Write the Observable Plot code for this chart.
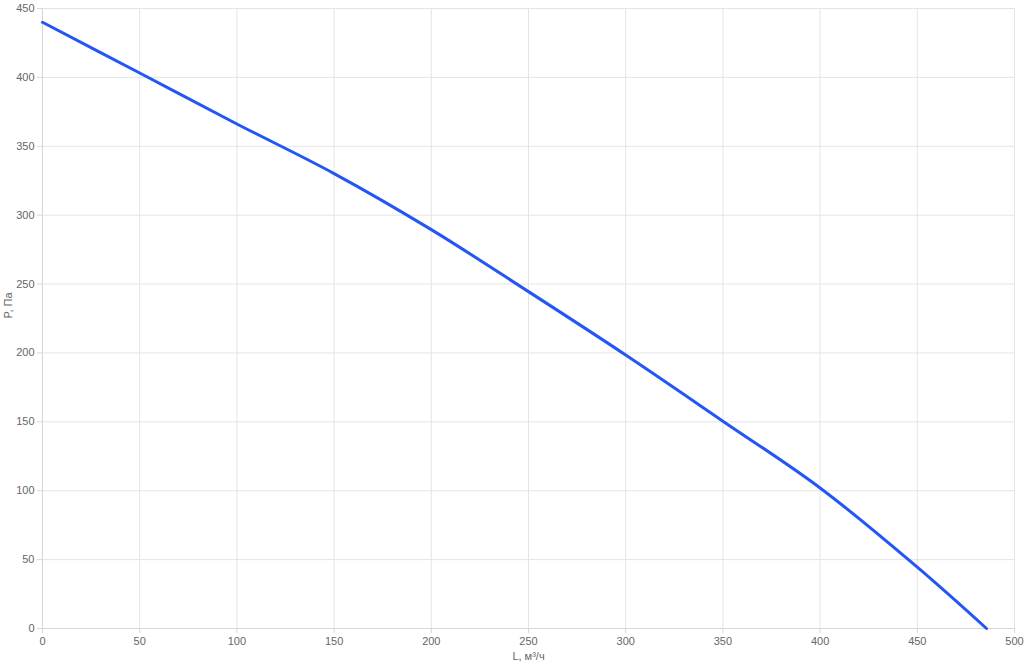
<!DOCTYPE html>
<html><head><meta charset="utf-8">
<script src="https://cdn.jsdelivr.net/npm/d3@7"></script>
<script src="https://cdn.jsdelivr.net/npm/@observablehq/plot@0.6"></script>
<style>
html,body{margin:0;padding:0;background:#fff;}
svg{display:block;}
</style>
</head><body><div id="chart"></div>
<script>
const flowL = [0, 50, 100, 150, 200, 250, 300, 350, 400, 450, 485.6];
const pressureP = [440, 403.2, 366.2, 330.2, 289.5, 244.5, 198.5, 150.5, 102, 44.5, 0];
const xTicks = [0, 50, 100, 150, 200, 250, 300, 350, 400, 450, 500];
const yTicks = [0, 50, 100, 150, 200, 250, 300, 350, 400, 450];

const data = flowL.map((L, i) => ({L, P: pressureP[i]}));

const chart = Plot.plot({
  width: 1024,
  height: 666,
  marginLeft: 42,
  marginRight: 10,
  marginTop: 8,
  marginBottom: 38,
  style: {fontFamily: "Liberation Sans, Arial, sans-serif", fontSize: "11px", color: "#666", background: "#fff"},
  x: {domain: [0, 500], ticks: xTicks, label: null},
  y: {domain: [0, 450], ticks: yTicks, label: null},
  marks: [
    Plot.gridX(xTicks, {stroke: "#e4e4e4", strokeOpacity: 1, strokeWidth: 1}),
    Plot.gridY(yTicks, {stroke: "#e4e4e4", strokeOpacity: 1, strokeWidth: 1}),
    Plot.ruleY([0], {stroke: "#d6d6d6"}),
    Plot.ruleX([0], {stroke: "#d6d6d6"}),
    Plot.axisX(xTicks, {tickSize: 5, tickPadding: 4, stroke: "#d6d6d6", fill: "#666", fontSize: 11}),
    Plot.axisY(yTicks, {tickSize: 5, tickPadding: 3, stroke: "#d6d6d6", fill: "#666", fontSize: 11}),
    Plot.line(data, {x: "L", y: "P", stroke: "#2356f5", strokeWidth: 3, curve: "catmull-rom"}),
    Plot.text(["L, м³/ч"], {frameAnchor: "bottom", dy: 31, fill: "#666", fontSize: 11}),
    Plot.text(["P, Па"], {frameAnchor: "left", dx: -34, rotate: -90, fill: "#666", fontSize: 11})
  ]
});
document.getElementById("chart").appendChild(chart);
</script>
</body></html>
